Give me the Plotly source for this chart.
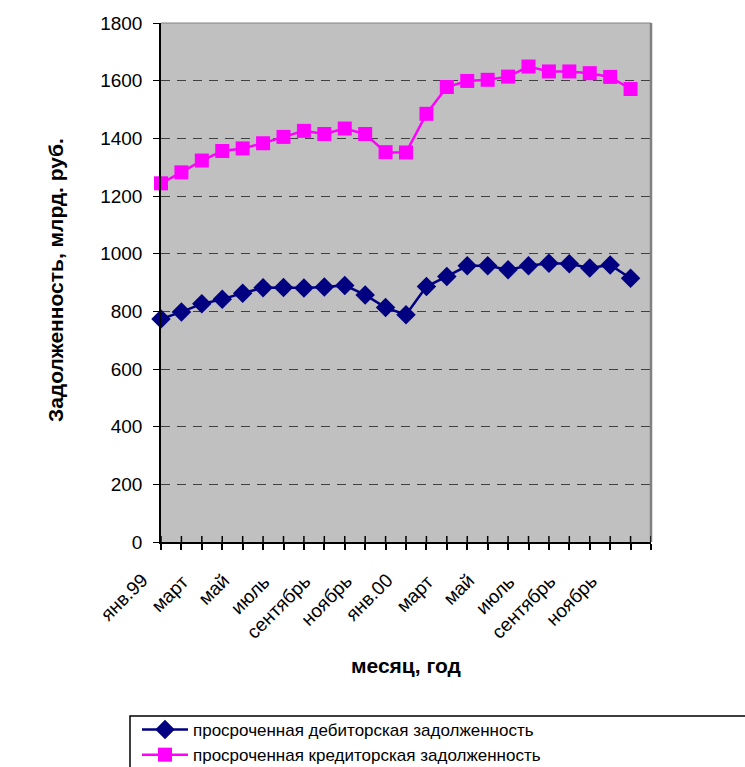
import plotly.graph_objects as go

# Monthly overdue debt, bn rub. (Jan 1999 - Dec 2000)
months = list(range(24))
month_labels = ["янв.99", "", "март", "", "май", "", "июль", "", "сентябрь", "", "ноябрь", "",
                "янв.00", "", "март", "", "май", "", "июль", "", "сентябрь", "", "ноябрь", "", ""]
receivables = [773, 798, 826, 842, 863, 882, 883, 881, 884, 890, 857, 813,
               788, 886, 921, 958, 958, 944, 958, 967, 965, 950, 961, 915]
payables = [1244, 1282, 1323, 1356, 1365, 1383, 1405, 1426, 1415, 1434, 1415, 1352,
            1351, 1485, 1578, 1599, 1603, 1614, 1649, 1632, 1632, 1626, 1613, 1571]
y_ticks = [0, 200, 400, 600, 800, 1000, 1200, 1400, 1600, 1800]

FONT = "Liberation Sans, Arial, sans-serif"
W, H = 745, 767
L, R, T, B = 161, 94, 23, 225
PW, PH = W - L - R, H - T - B


def px_x(px):
    return (px - L) / PW


def px_y(py):
    return (H - B - py) / PH


fig = go.Figure()
fig.add_trace(go.Scatter(
    x=months, y=receivables, mode="lines+markers",
    name="просроченная дебиторская задолженность",
    line=dict(color="#000080", width=2.5),
    marker=dict(symbol="diamond", size=15, color="#000080"),
    cliponaxis=False,
))
fig.add_trace(go.Scatter(
    x=months, y=payables, mode="lines+markers",
    name="просроченная кредиторская задолженность",
    line=dict(color="#FF00FF", width=2.5),
    marker=dict(symbol="square", size=14, color="#FF00FF"),
    cliponaxis=False,
))

tick_positions = list(range(25))

shapes = [
    # frame of the plot area on the top and right
    dict(type="line", xref="paper", yref="paper", x0=1, x1=1, y0=0, y1=1,
         line=dict(color="#808080", width=2.5)),
    dict(type="line", xref="paper", yref="paper", x0=0, x1=1, y0=1, y1=1,
         line=dict(color="#808080", width=1)),
    # legend frame
    dict(type="rect", xref="paper", yref="paper",
         x0=px_x(130), x1=px_x(770), y0=px_y(716), y1=px_y(790),
         line=dict(color="black", width=1.5), fillcolor="rgba(0,0,0,0)"),
]
# upper halves of the category ticks, so they cross the axis line
for t in tick_positions:
    shapes.append(dict(type="line", xref="x", yref="paper", x0=t, x1=t,
                       y0=0, y1=6 / PH, line=dict(color="black", width=1.5)))

annotations = [
    dict(text="<b>месяц, год</b>", xref="paper", yref="paper",
         x=px_x(406), y=px_y(665), showarrow=False,
         xanchor="center", yanchor="middle", font=dict(size=21)),
    dict(text="<b>Задолженность, млрд. руб.</b>", xref="paper", yref="paper",
         x=px_x(55), y=px_y(280), showarrow=False, textangle=-90,
         xanchor="center", yanchor="middle", font=dict(size=21)),
]
# month labels under the category axis, slanted at 45 degrees
for t, label in zip(tick_positions, month_labels):
    if label:
        annotations.append(dict(
            text=label, xref="x", yref="paper", x=t, y=px_y(569),
            showarrow=False, textangle=-45, xanchor="right", yanchor="top",
            xshift=-8, font=dict(size=19), borderpad=0,
        ))

fig.update_layout(
    width=W, height=H,
    margin=dict(l=L, r=R, t=T, b=B, autoexpand=False),
    paper_bgcolor="white",
    plot_bgcolor="#C0C0C0",
    font=dict(family=FONT, size=17, color="black"),
    xaxis=dict(
        range=[0, 24], tickmode="array", tickvals=tick_positions, showticklabels=False,
        ticks="outside", ticklen=6, tickcolor="black", tickwidth=1.5,
        showline=True, linecolor="black", linewidth=1.5, showgrid=False, zeroline=False,
        automargin=False,
    ),
    yaxis=dict(
        range=[0, 1800], tickmode="array", tickvals=y_ticks,
        ticks="outside", ticklen=6, tickcolor="black", tickwidth=1,
        showline=True, linecolor="black", linewidth=1.5, zeroline=False,
        showgrid=True, gridcolor="#404040", gridwidth=1, griddash="9px,7px",
        ticklabelstandoff=7, tickfont=dict(size=19), automargin=False,
    ),
    showlegend=True,
    legend=dict(
        orientation="v", x=px_x(137), xanchor="left", y=px_y(712), yanchor="top",
        bgcolor="rgba(0,0,0,0)", borderwidth=0,
        font=dict(size=17), tracegroupgap=0, itemwidth=46,
    ),
    shapes=shapes,
    annotations=annotations,
)

fig.write_html("out.html")
